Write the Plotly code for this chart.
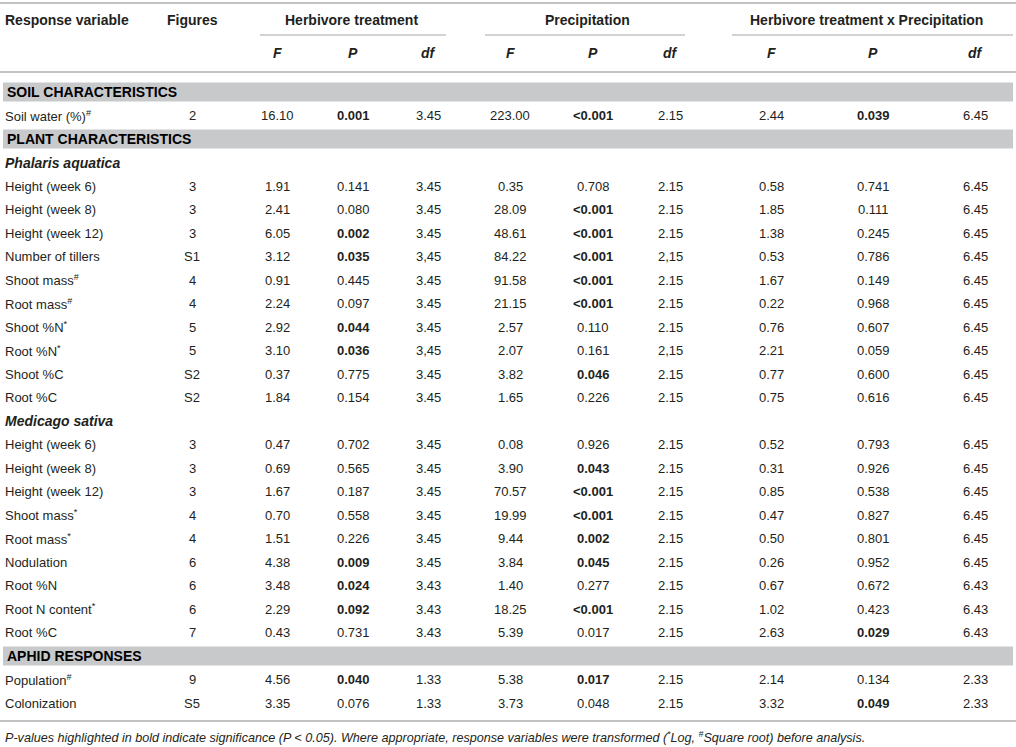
import plotly.graph_objects as go

# ---------------- data ----------------
row_labels = [
    "SOIL CHARACTERISTICS",
    "Soil water (%)<sup>#</sup>",
    "PLANT CHARACTERISTICS",
    "Phalaris aquatica",
    "Height (week 6)", "Height (week 8)", "Height (week 12)", "Number of tillers",
    "Shoot mass<sup>#</sup>", "Root mass<sup>#</sup>", "Shoot %N<sup>*</sup>", "Root %N<sup>*</sup>",
    "Shoot %C", "Root %C",
    "Medicago sativa",
    "Height (week 6)", "Height (week 8)", "Height (week 12)", "Shoot mass<sup>*</sup>",
    "Root mass<sup>*</sup>", "Nodulation", "Root %N", "Root N content<sup>*</sup>", "Root %C",
    "APHID RESPONSES",
    "Population<sup>#</sup>", "Colonization",
]
row_kind = ["band", "data", "band", "species"] + ["data"] * 10 + ["species"] + ["data"] * 9 + ["band", "data", "data"]

figures = ["", "2", "", "", "3", "3", "3", "S1", "4", "4", "5", "5", "S2", "S2", "",
           "3", "3", "3", "4", "4", "6", "6", "6", "7", "", "9", "S5"]

herb_F = ["", "16.10", "", "", "1.91", "2.41", "6.05", "3.12", "0.91", "2.24", "2.92", "3.10", "0.37", "1.84", "",
          "0.47", "0.69", "1.67", "0.70", "1.51", "4.38", "3.48", "2.29", "0.43", "", "4.56", "3.35"]
herb_P = ["", "0.001", "", "", "0.141", "0.080", "0.002", "0.035", "0.445", "0.097", "0.044", "0.036", "0.775", "0.154", "",
          "0.702", "0.565", "0.187", "0.558", "0.226", "0.009", "0.024", "0.092", "0.731", "", "0.040", "0.076"]
herb_P_bold = [0, 1, 0, 0, 0, 0, 1, 1, 0, 0, 1, 1, 0, 0, 0,
               0, 0, 0, 0, 0, 1, 1, 1, 0, 0, 1, 0]
herb_df = ["", "3.45", "", "", "3.45", "3.45", "3.45", "3,45", "3.45", "3.45", "3.45", "3,45", "3.45", "3.45", "",
           "3.45", "3.45", "3.45", "3.45", "3.45", "3.45", "3.43", "3.43", "3.43", "", "1.33", "1.33"]

prec_F = ["", "223.00", "", "", "0.35", "28.09", "48.61", "84.22", "91.58", "21.15", "2.57", "2.07", "3.82", "1.65", "",
          "0.08", "3.90", "70.57", "19.99", "9.44", "3.84", "1.40", "18.25", "5.39", "", "5.38", "3.73"]
prec_P = ["", "<0.001", "", "", "0.708", "<0.001", "<0.001", "<0.001", "<0.001", "<0.001", "0.110", "0.161", "0.046", "0.226", "",
          "0.926", "0.043", "<0.001", "<0.001", "0.002", "0.045", "0.277", "<0.001", "0.017", "", "0.017", "0.048"]
prec_P_bold = [0, 1, 0, 0, 0, 1, 1, 1, 1, 1, 0, 0, 1, 0, 0,
               0, 1, 1, 1, 1, 1, 0, 1, 0, 0, 1, 0]
prec_df = ["", "2.15", "", "", "2.15", "2.15", "2.15", "2,15", "2.15", "2.15", "2.15", "2,15", "2.15", "2.15", "",
           "2.15", "2.15", "2.15", "2.15", "2.15", "2.15", "2.15", "2.15", "2.15", "", "2.15", "2.15"]

int_F = ["", "2.44", "", "", "0.58", "1.85", "1.38", "0.53", "1.67", "0.22", "0.76", "2.21", "0.77", "0.75", "",
         "0.52", "0.31", "0.85", "0.47", "0.50", "0.26", "0.67", "1.02", "2.63", "", "2.14", "3.32"]
int_P = ["", "0.039", "", "", "0.741", "0.111", "0.245", "0.786", "0.149", "0.968", "0.607", "0.059", "0.600", "0.616", "",
         "0.793", "0.926", "0.538", "0.827", "0.801", "0.952", "0.672", "0.423", "0.029", "", "0.134", "0.049"]
int_P_bold = [0, 1, 0, 0, 0, 0, 0, 0, 0, 0, 0, 0, 0, 0, 0,
              0, 0, 0, 0, 0, 0, 0, 0, 1, 0, 0, 1]
int_df = ["", "6.45", "", "", "6.45", "6.45", "6.45", "6.45", "6.45", "6.45", "6.45", "6.45", "6.45", "6.45", "",
          "6.45", "6.45", "6.45", "6.45", "6.45", "6.45", "6.43", "6.43", "6.43", "", "2.33", "2.33"]

group_headers = ["Herbivore treatment", "Precipitation", "Herbivore treatment x Precipitation"]
sub_headers = ["F", "P", "df"]
footnote = ("P-values highlighted in bold indicate significance (P &lt; 0.05). Where appropriate, response "
            "variables were transformed (<sup>*</sup>Log, <sup>#</sup>Square root) before analysis.")

# ---------------- layout geometry ----------------
W, H = 1016, 747
FONT = "Liberation Sans, Arial, Helvetica, sans-serif"
TXT = "#231f20"
LINE = "#c3c3c3"
BAND = "#c8c9cb"

col_x = [192, 277, 353, 428, 510, 593, 670, 771, 873, 975]
group_cx = [351, 587, 866]
group_span = [(260, 446), (485, 685), (732, 1013)]
y_h1, y_h2 = 20, 53
y0, dy = 92, 23.5
fs = 13
fs_b = 14

fig = go.Figure()
fig.add_trace(go.Scatter(x=[0, W], y=[0, H], mode="markers", marker=dict(opacity=0), hoverinfo="skip", showlegend=False))

shapes = []
ann = []

def text(x, y, s, anchor="center", size=fs, color=TXT):
    ann.append(dict(x=x, y=y, xref="x", yref="y", text=s, showarrow=False, xanchor=anchor, yanchor="middle",
                    font=dict(family=FONT, size=size, color=color)))

def hline(x0, x1, y, w=2):
    shapes.append(dict(type="line", xref="x", yref="y", x0=x0, x1=x1, y0=y, y1=y, line=dict(color=LINE, width=w)))

# rules
hline(0, W, 3)
for a, b in group_span:
    hline(a, b, 35, 1.5)
hline(0, W, 72)
hline(0, W, 721)

# header
text(3, y_h1, "<b>Response variable</b>", "left", size=fs_b)
text(col_x[0], y_h1, "<b>Figures</b>", size=fs_b)
for cx, g in zip(group_cx, group_headers):
    text(cx, y_h1, f"<b>{g}</b>", size=fs_b)
for gi in range(3):
    for si, s in enumerate(sub_headers):
        text(col_x[1 + gi * 3 + si], y_h2, f"<b><i>{s}</i></b>", size=fs_b)

# body
cols = [figures, herb_F, herb_P, herb_df, prec_F, prec_P, prec_df, int_F, int_P, int_df]
bolds = {2: herb_P_bold, 5: prec_P_bold, 8: int_P_bold}
for i, lab in enumerate(row_labels):
    y = y0 + dy * i
    kind = row_kind[i]
    if kind == "band":
        shapes.append(dict(type="rect", xref="x", yref="y", x0=3, x1=1013, y0=y - 9.5, y1=y + 9.5,
                           fillcolor=BAND, line=dict(width=0), layer="below"))
        text(5, y, f"<b>{lab}</b>", "left", size=fs_b, color="#000")
    elif kind == "species":
        text(3, y, f"<b><i>{lab}</i></b>", "left", size=fs_b)
    else:
        text(3, y, lab, "left")
        for ci, col in enumerate(cols):
            v = col[i].replace("<", "&lt;")
            if ci in bolds and bolds[ci][i]:
                v = f"<b>{v}</b>"
            text(col_x[ci], y, v)

text(3, 737, f"<i>{footnote}</i>", "left", size=12.6)

fig.update_layout(
    width=W, height=H, margin=dict(l=0, r=0, t=0, b=0),
    paper_bgcolor="white", plot_bgcolor="white",
    xaxis=dict(range=[0, W], visible=False, fixedrange=True),
    yaxis=dict(range=[H, 0], visible=False, fixedrange=True),
    shapes=shapes, annotations=ann, showlegend=False,
)
fig.write_html("out.html", config={"displayModeBar": False},
               post_script="document.body.style.margin='0';document.body.style.overflow='hidden';")
